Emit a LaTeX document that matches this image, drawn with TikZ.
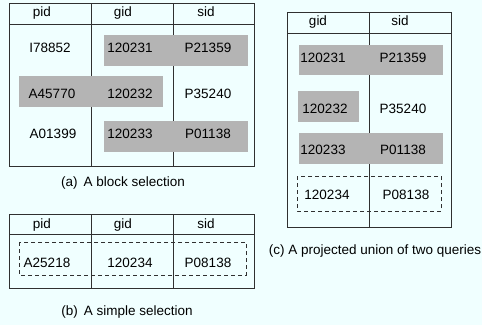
\documentclass[tikz,border=0pt]{standalone}
\usepackage{fontspec}
\setmainfont{Liberation Sans}
\definecolor{bgc}{HTML}{F0FFFF}
\definecolor{selc}{HTML}{B4B4B4}
\definecolor{linec}{HTML}{303030}
\begin{document}
\begin{tikzpicture}[x=1pt,y=-1pt,
  every node/.style={font=\fontsize{13.5}{16}\selectfont, inner sep=0pt},
  tbl/.style={draw=linec, line width=1pt},
  sel/.style={fill=selc, draw=none},
  dsel/.style={draw=linec, line width=1pt, dash pattern=on 4pt off 3pt},
  txt/.style={anchor=base},
  captxt/.style={anchor=base}]
\fill[bgc] (0,0) rectangle (482,325);
\useasboundingbox (0,0) rectangle (482,325);

% ---------- (a) block selection ----------
\draw[tbl] (9,3) rectangle (254,166);
\draw[tbl] (9,24) -- (254,24);
\draw[tbl] (91,3) -- (91,166);
\draw[tbl] (173,3) -- (173,166);
\fill[sel] (104,35) rectangle (248,66);
\fill[sel] (19,76) rectangle (163,107);
\fill[sel] (104,121) rectangle (248,152);
\node[txt] (ah1) at (42,16) {pid};
\node[txt] (ah2) at (123,16) {gid};
\node[txt] (ah3) at (206,16) {sid};
\node[txt] (a11) at (50,52) {I78852};
\node[txt] (a12) at (130,52) {120231};
\node[txt] (a13) at (208,52) {P21359};
\node[txt] (a21) at (52,98) {A45770};
\node[txt] (a22) at (130,98) {120232};
\node[txt] (a23) at (208,98) {P35240};
\node[txt] (a31) at (53,138) {A01399};
\node[txt] (a32) at (130,138) {120233};
\node[txt] (a33) at (208,138) {P01138};
\node[captxt] (capa) at (123,186) {(a)\, A block selection};

% ---------- (b) simple selection ----------
\draw[tbl] (9,214) rectangle (254,288);
\draw[tbl] (9,234) -- (254,234);
\draw[tbl] (91,214) -- (91,288);
\draw[tbl] (173,214) -- (173,288);
\draw[dsel] (19,242) rectangle (246,275);
\node[txt] (bh1) at (42,228) {pid};
\node[txt] (bh2) at (123,228) {gid};
\node[txt] (bh3) at (206,228) {sid};
\node[txt] (b11) at (47,267) {A25218};
\node[txt] (b12) at (130,267) {120234};
\node[txt] (b13) at (208,267) {P08138};
\node[captxt] (capb) at (127,315) {(b)\, A simple selection};

% ---------- (c) projected union ----------
\draw[tbl] (287,12) rectangle (451,227);
\draw[tbl] (287,33) -- (451,33);
\draw[tbl] (369,12) -- (369,227);
\fill[sel] (299,45) rectangle (443,75);
\fill[sel] (298,91) rectangle (359,122);
\fill[sel] (299,133) rectangle (443,164);
\draw[dsel] (297,176) rectangle (441,211);
\node[txt] (ch1) at (318,25) {gid};
\node[txt] (ch2) at (400,25) {sid};
\node[txt] (c11) at (323,62) {120231};
\node[txt] (c12) at (403,62) {P21359};
\node[txt] (c21) at (325,113) {120232};
\node[txt] (c22) at (403,113) {P35240};
\node[txt] (c31) at (323,154) {120233};
\node[txt] (c32) at (403,154) {P01138};
\node[txt] (c41) at (327,199) {120234};
\node[txt] (c42) at (406,199) {P08138};
\node[captxt] (capc) at (375,254) {(c) A projected union of two queries};
\end{tikzpicture}
\end{document}
